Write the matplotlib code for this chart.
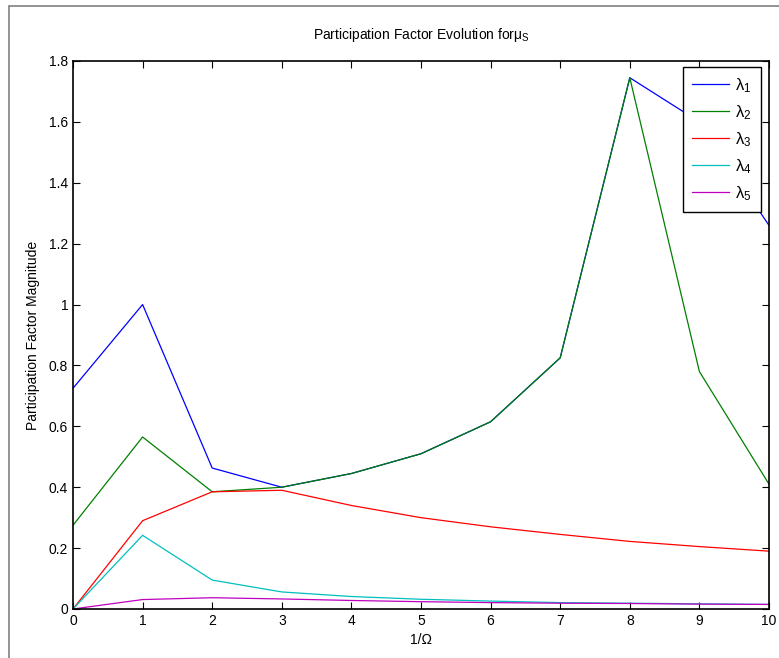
import matplotlib
matplotlib.use("Agg")
import matplotlib.pyplot as plt
from matplotlib.patches import Rectangle

plt.rcParams["font.family"] = ["Liberation Sans", "DejaVu Sans"]
plt.rcParams["mathtext.fontset"] = "custom"
plt.rcParams["mathtext.rm"] = "Liberation Sans"
plt.rcParams["mathtext.it"] = "Liberation Sans"

x = [0, 1, 2, 3, 4, 5, 6, 7, 8, 9, 10]
lam1 = [0.725, 1.0, 0.463, 0.40, 0.445, 0.51, 0.615, 0.825, 1.745, 1.60, 1.26]
lam2 = [0.275, 0.565, 0.385, 0.40, 0.445, 0.51, 0.615, 0.825, 1.745, 0.78, 0.41]
lam3 = [0.0, 0.29, 0.385, 0.39, 0.34, 0.30, 0.27, 0.245, 0.222, 0.205, 0.19]
lam4 = [0.0, 0.242, 0.095, 0.056, 0.041, 0.032, 0.026, 0.021, 0.019, 0.017, 0.015]
lam5 = [0.0, 0.031, 0.037, 0.033, 0.028, 0.024, 0.021, 0.019, 0.018, 0.016, 0.015]

series = [lam1, lam2, lam3, lam4, lam5]
labels = [r"$\lambda_1$", r"$\lambda_2$", r"$\lambda_3$", r"$\lambda_4$", r"$\lambda_5$"]
colors = ["#0000ff", "#008000", "#ff0000", "#00bfbf", "#bf00bf"]

fig = plt.figure(figsize=(7.79, 6.58), dpi=100)
ax = fig.add_axes([73 / 779, 1 - 609 / 658, (769 - 73) / 779, (609 - 61) / 658])

for ys, lab, c in zip(series, labels, colors):
    ax.plot(x, ys, color=c, linewidth=0.9, label=lab)

ax.set_xlim(0, 10)
ax.set_ylim(0, 1.8)
ax.set_xticks(range(0, 11))
ax.set_yticks([0, 0.2, 0.4, 0.6, 0.8, 1.0, 1.2, 1.4, 1.6, 1.8])
ax.set_yticklabels(["0", "0.2", "0.4", "0.6", "0.8", "1", "1.2", "1.4", "1.6", "1.8"])
ax.tick_params(direction="in", top=True, right=True, labelsize=10, length=5, width=0.8)
for s in ax.spines.values():
    s.set_linewidth(1.2)
    s.set_color("black")

ax.set_xlabel("1/\u03a9", fontsize=10, labelpad=4)
ax.set_ylabel("Participation Factor Magnitude", fontsize=10, labelpad=6)
ax.set_title(r"Participation Factor Evolution for$\mu_S$", fontsize=10, pad=16)

# legend box in the reference spans roughly x 680-761, y 67-209 px
leg = ax.legend(loc="upper right", bbox_to_anchor=(0.9885, 0.989), borderaxespad=0,
                fontsize=12, fancybox=False, framealpha=1, edgecolor="black",
                handlelength=2.2, handletextpad=0.4, labelspacing=0.5, borderpad=0.55)
leg.get_frame().set_linewidth(1.0)

# grey figure frame, only its top and left edges fall inside the image
fig.patches.append(Rectangle((9 / 779, -0.1), 1.2, 1.1 - 6 / 658,
                             transform=fig.transFigure, fill=False,
                             edgecolor="#808080", linewidth=1.2))

fig.savefig("out.png", dpi=100)
